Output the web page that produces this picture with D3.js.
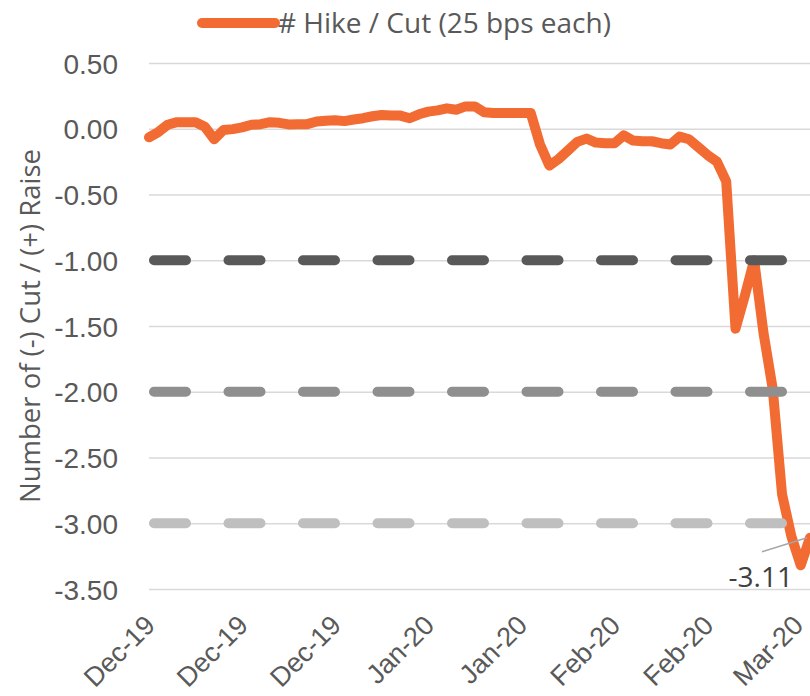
<!DOCTYPE html>
<html>
<head>
<meta charset="utf-8">
<script src="https://cdn.jsdelivr.net/npm/d3@7"></script>
<style>
  body { margin: 0; background: #fff; }
  svg { display: block; font-family: 'Open Sans', sans-serif; }
</style>
</head>
<body>
<div id="chart"></div>
<script>
// market implied number of 25bp moves, one value per trading day
const hikeCut = [
  -0.065, -0.025, 0.03, 0.05, 0.05, 0.05, 0.015, -0.08, -0.01, -0.003,
  0.01, 0.03, 0.035, 0.05, 0.045, 0.033, 0.035, 0.035, 0.055, 0.06,
  0.065, 0.058, 0.07, 0.08, 0.095, 0.105, 0.1, 0.1, 0.08, 0.11,
  0.13, 0.14, 0.155, 0.145, 0.17, 0.17, 0.125, 0.12, 0.12, 0.12,
  0.12, 0.12, -0.12, -0.28, -0.23, -0.165, -0.1, -0.075, -0.105, -0.11,
  -0.11, -0.05, -0.09, -0.095, -0.095, -0.11, -0.12, -0.06, -0.08, -0.14,
  -0.2, -0.25, -0.4, -1.52, -1.27, -1.0, -1.55, -1.98, -2.78, -3.1,
  -3.32, -3.11
]

// every 10th day gets a label
const tickIndex = [0, 10, 20, 30, 40, 50, 60, 70]
const tickLabels = ['Dec-19', 'Dec-19', 'Dec-19', 'Jan-20', 'Jan-20', 'Feb-20', 'Feb-20', 'Mar-20']

const yTicks = [0.5, 0, -0.5, -1, -1.5, -2, -2.5, -3, -3.5]

// 1, 2 and 3 cut reference levels
const levels = [-1, -2, -3]
const levelColors = ['#595959', '#8f8f8f', '#bfbfbf']

const width = 810
const height = 696
const margin = { top: 63, right: 0, bottom: 107, left: 149 }

// plain hyphen for negatives, like the source sheet
const fmt = d3.formatLocale({
  decimal: '.', thousands: ',', grouping: [3], currency: ['$', ''], minus: '-'
}).format('.2f')

const svg = d3.select('#chart').append('svg')
  .attr('width', width)
  .attr('height', height)

const x = d3.scaleLinear()
  .domain([0, hikeCut.length - 1])
  .range([margin.left, width - margin.right])

const y = d3.scaleLinear()
  .domain([-3.5, 0.5])
  .range([height - margin.bottom, margin.top])

// gridlines + y labels
const yAxis = d3.axisLeft(y)
  .tickValues(yTicks)
  .tickFormat(fmt)
  .tickSize(-(width - margin.left))
  .tickPadding(31)

svg.append('g')
  .attr('transform', `translate(${margin.left},0)`)
  .call(yAxis)
  .call(g => g.select('.domain').remove())
  .call(g => g.selectAll('.tick line')
    .attr('stroke', '#d9d9d9')
    .attr('stroke-width', 1.5))
  .call(g => g.selectAll('.tick text')
    .attr('fill', '#595959')
    .style('font-size', '28px')
    .attr('dy', '0.36em'))

// x labels, rotated
const xAxis = d3.axisBottom(x)
  .tickValues(tickIndex)
  .tickFormat((d, i) => tickLabels[i])
  .tickSize(0)

svg.append('g')
  .attr('transform', `translate(0,${height - margin.bottom})`)
  .call(xAxis)
  .call(g => g.select('.domain').remove())
  .call(g => g.selectAll('.tick text')
    .attr('fill', '#595959')
    .style('font-size', '27px')
    .attr('text-anchor', 'end')
    .attr('dy', null)
    .attr('y', null)
    .attr('transform', 'translate(7,38) rotate(-45)'))
  // pull the last label back inside the frame if it spills over
  .call(g => g.selectAll('.tick text').each(function() {
    const over = this.getBoundingClientRect().right - width
    if (over > 0) {
      d3.select(this).attr('transform', `translate(${7 - over - 1},38) rotate(-45)`)
    }
  }))

const line = d3.line()
  .x((d, i) => x(i))
  .y(d => y(d))

svg.append('path')
  .datum(hikeCut)
  .attr('fill', 'none')
  .attr('stroke', '#f26b33')
  .attr('stroke-width', 10)
  .attr('stroke-linejoin', 'round')
  .attr('stroke-linecap', 'round')
  .attr('d', line)

// dashed level lines sit on top of the series
svg.append('g')
  .selectAll('line')
  .data(levels)
  .join('line')
    .attr('x1', x(0))
    .attr('x2', x(hikeCut.length - 1))
    .attr('y1', d => y(d))
    .attr('y2', d => y(d))
    .attr('stroke', (d, i) => levelColors[i])
    .attr('stroke-width', 10)
    .attr('stroke-linecap', 'round')
    .attr('stroke-dasharray', '32 42.5')
    .attr('stroke-dashoffset', -5)

// label on the last value
const last = hikeCut.length - 1
const lx = x(last)
const ly = y(hikeCut[last])

svg.append('line')
  .attr('x1', lx - 48)
  .attr('y1', ly + 14)
  .attr('x2', lx - 3)
  .attr('y2', ly)
  .attr('stroke', '#a6a6a6')
  .attr('stroke-width', 1.5)

svg.append('text')
  .attr('x', lx - 17)
  .attr('y', ly + 49)
  .attr('text-anchor', 'end')
  .attr('fill', '#404040')
  .style('font-size', '28px')
  .text(fmt(hikeCut[last]))

// y title
svg.append('text')
  .attr('transform', `translate(40,${(margin.top + height - margin.bottom) / 2}) rotate(-90)`)
  .attr('text-anchor', 'middle')
  .attr('fill', '#595959')
  .style('font-size', '27.5px')
  .text('Number of (-) Cut / (+) Raise')

// legend
const legend = svg.append('g')
  .attr('transform', 'translate(202,23)')

legend.append('line')
  .attr('x1', 0)
  .attr('x2', 73)
  .attr('stroke', '#f26b33')
  .attr('stroke-width', 10)
  .attr('stroke-linecap', 'round')

legend.append('text')
  .attr('x', 76)
  .attr('dy', '0.35em')
  .attr('fill', '#595959')
  .style('font-size', '28px')
  .text('# Hike / Cut (25 bps each)')
</script>
</body>
</html>
